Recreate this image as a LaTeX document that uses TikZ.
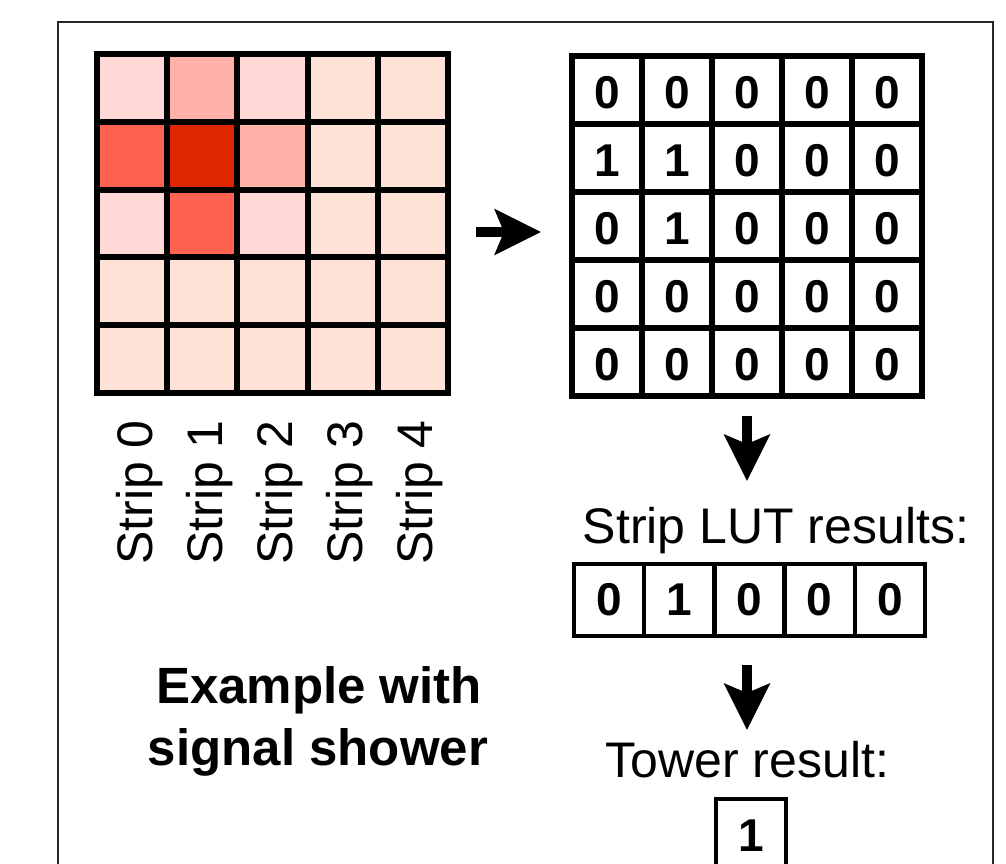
\documentclass[tikz,border=0pt]{standalone}
\usepackage{fontspec}
\setmainfont{Liberation Sans}
\usetikzlibrary{arrows.meta}

\definecolor{peach}{HTML}{FFE2D6}
\definecolor{lpink}{HTML}{FED9D5}
\definecolor{mpink}{HTML}{FFB2AA}
\definecolor{hotred}{HTML}{FF6250}
\definecolor{deepred}{HTML}{E02600}

\tikzset{
  heatcell/.style={draw=black, line width=6pt, minimum width=70.2pt, minimum height=67.8pt,
    inner sep=0pt, outer sep=0pt},
  bitcell/.style={draw=black, line width=5.5pt, minimum width=70pt, minimum height=68pt,
    inner sep=0pt, outer sep=0pt, fill=white},
  lutcell/.style={draw=black, line width=4.5pt, minimum width=70.2pt, minimum height=72pt,
    inner sep=0pt, outer sep=0pt, fill=white},
  digit/.style={font=\fontsize{46}{50}\selectfont\bfseries, inner sep=0pt},
  caption/.style={font=\fontsize{50}{60}\selectfont, inner sep=0pt},
  boldcaption/.style={font=\fontsize{51}{60}\selectfont\bfseries, inner sep=0pt, anchor=base},
  striplabel/.style={font=\fontsize{50}{60}\selectfont, inner sep=0pt, rotate=90, anchor=base west},
  blockarrow/.style={line width=10.5pt, -{Stealth[length=46pt, width=45pt, inset=9pt]}},
}

\begin{document}
\begin{tikzpicture}[x=1pt, y=1pt]
  \useasboundingbox (0,0) rectangle (1006,-864);

  % open frame running off the bottom edge
  \draw[line width=2.2pt, black!85] (58,-880) -- (58,-22) -- (993,-22) -- (993,-880);

  % energy deposits per cell
  \foreach \r/\c/\col in {
      0/0/lpink, 0/1/mpink, 0/2/lpink, 0/3/peach, 0/4/peach,
      1/0/hotred, 1/1/deepred, 1/2/mpink, 1/3/peach, 1/4/peach,
      2/0/lpink, 2/1/hotred, 2/2/lpink, 2/3/peach, 2/4/peach,
      3/0/peach, 3/1/peach, 3/2/peach, 3/3/peach, 3/4/peach,
      4/0/peach, 4/1/peach, 4/2/peach, 4/3/peach, 4/4/peach} {
    \node[heatcell, fill=\col] (h-\r-\c) at ({97+70.2*(\c+0.5)}, {-(54+67.8*(\r+0.5))}) {};
  }

  % strip labels under the columns
  \foreach \c in {0,...,4} {
    \node[striplabel] (strip-\c) at ({152+70.2*\c}, -565) {Strip \c};
  }

  % thresholded cells
  \foreach \r/\vals in {0/{0,0,0,0,0}, 1/{1,1,0,0,0}, 2/{0,1,0,0,0}, 3/{0,0,0,0,0}, 4/{0,0,0,0,0}} {
    \foreach \v [count=\k from 0] in \vals {
      \node[bitcell] (b-\r-\k) at ({572+70*(\k+0.5)}, {-(56+68*(\r+0.5))}) {};
      \node[digit] (bd-\r-\k) at ([yshift=-3pt]b-\r-\k.center) {\v};
    }
  }

  % strip LUT outputs
  \foreach \v [count=\k from 0] in {0,1,0,0,0} {
    \node[lutcell] (l-\k) at ({574+70.2*(\k+0.5)}, -600) {};
    \node[digit] (ld-\k) at (l-\k.center) {\v};
  }

  % tower output
  \node[lutcell, minimum width=70pt, minimum height=70pt] (tower) at (751,-834) {};
  \node[digit] (towerd) at ([yshift=-2pt]tower.center) {1};

  % captions
  \node[caption, anchor=base] (lutcap) at (776,-543) {Strip LUT results:};
  \node[caption, anchor=base] (towercap) at (747.5,-777) {Tower result:};
  \node[boldcaption] (ex1) at (319,-703) {Example with};
  \node[boldcaption] (ex2) at (318,-765) {signal shower};

  % flow arrows
  \coordinate (a1s) at (476,-232);
  \coordinate (a1e) at (541,-232);
  \coordinate (a2s) at (747,-416);
  \coordinate (a2e) at (747,-481);
  \coordinate (a3s) at (747,-665);
  \coordinate (a3e) at (747,-730);
  \draw[blockarrow] (a1s) -- (a1e);
  \draw[blockarrow] (a2s) -- (a2e);
  \draw[blockarrow] (a3s) -- (a3e);
\end{tikzpicture}
\end{document}
